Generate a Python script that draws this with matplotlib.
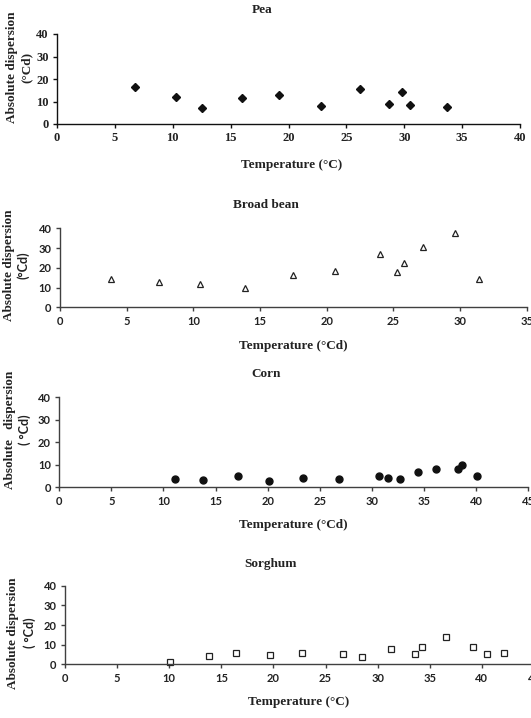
import matplotlib
matplotlib.use('Agg')
import matplotlib.pyplot as plt

# Data
pea_temp = [6.7, 10.3, 12.5, 16.0, 19.2, 22.8, 26.2, 28.7, 29.8, 30.5, 33.7]
pea_disp = [16.3, 12.1, 7.3, 11.4, 13.1, 8.1, 15.7, 8.7, 14.1, 8.6, 7.4]

bean_temp = [3.8, 7.4, 10.5, 13.9, 17.5, 20.6, 24.0, 25.3, 25.8, 27.2, 29.6, 31.4]
bean_disp = [14.3, 13.0, 11.8, 10.0, 16.2, 18.2, 27.2, 17.7, 22.3, 30.4, 37.5, 14.3]

corn_temp = [11.1, 13.8, 17.2, 20.1, 23.4, 26.9, 30.7, 31.6, 32.7, 34.4, 36.2, 38.3, 38.7, 40.1]
corn_disp = [3.5, 3.2, 4.9, 3.0, 3.9, 3.8, 5.2, 4.1, 3.5, 6.7, 8.0, 8.0, 9.9, 4.9]

sorg_temp = [10.1, 13.8, 16.4, 19.7, 22.7, 26.7, 28.5, 31.3, 33.6, 34.3, 36.6, 39.1, 40.5, 42.1]
sorg_disp = [1.4, 4.4, 5.6, 4.9, 5.9, 5.4, 3.7, 8.0, 5.1, 8.8, 13.7, 8.8, 5.4, 5.6]

W, H = 531, 718
fig = plt.figure(figsize=(W / 100, H / 100), dpi=100)
fig.patch.set_facecolor('white')

SERIF = 'Liberation Serif'
SANS = ['Lato', 'DejaVu Sans']


def px_axes(l, t, r, b):
    '''Add axes from pixel box (left, top, right, bottom)'''
    return fig.add_axes([l / W, 1 - b / H, (r - l) / W, (b - t) / H])


def ftext(x, y, s, **kw):
    fig.text(x / W, 1 - y / H, s, ha='center', va='center', **kw)


def style_axes(ax, xmax, xstep, tickfont, color):
    ax.set_xlim(0, xmax)
    ax.set_ylim(0, 40)
    ax.set_xticks(range(0, xmax + 1, xstep))
    ax.set_yticks(range(0, 41, 10))
    for s in ['top', 'right']:
        ax.spines[s].set_visible(False)
    for s in ['left', 'bottom']:
        ax.spines[s].set_color(color)
        ax.spines[s].set_linewidth(1.0)
    ax.tick_params(direction='out', length=3, width=1.0, colors=color,
                   labelcolor='#222222', pad=3)
    for lab in ax.get_xticklabels() + ax.get_yticklabels():
        if tickfont == 'serif':
            lab.set_family(SERIF)
            lab.set_fontsize(9)
        else:
            lab.set_family(SANS)
            lab.set_fontsize(8)
        lab.set_fontweight('bold')
    ax.patch.set_alpha(0)


title_kw = dict(family=SERIF, fontweight='bold', fontsize=9.5, color='#222222')
label_kw = dict(family=SERIF, fontweight='bold', fontsize=9.5, color='#222222')

# Pea
ax = px_axes(57, 34, 520, 124)
ax.plot(pea_temp, pea_disp, linestyle='none', marker='D', ms=4.5,
        color='#111111', clip_on=False)
style_axes(ax, 40, 5, 'serif', '#111111')
ftext(262, 10, 'Pea', **title_kw)
ftext(292, 165, 'Temperature (°C)', **label_kw)
ftext(12, 67, 'Absolute dispersion', rotation=90, **label_kw)
ftext(27, 67, '(°Cd)', rotation=90, **label_kw)

# Broad bean
ax = px_axes(60, 228.3, 526.7, 307.3)
ax.plot(bean_temp, bean_disp, linestyle='none', marker='^', ms=4.8,
        mfc='white', mec='#222222', mew=0.9, clip_on=False)
style_axes(ax, 35, 5, 'sans', '#404040')
ftext(266, 205, 'Broad bean', **title_kw)
ftext(293, 346, 'Temperature (°Cd)', **label_kw)
ftext(9, 265, 'Absolute dispersion', rotation=90, **label_kw)
ftext(23, 265, '(°Cd)', rotation=90, family=SANS, fontweight='bold',
      fontsize=9, color='#222222')

# Corn
ax = px_axes(59.3, 397, 528, 487.3)
ax.plot(corn_temp, corn_disp, linestyle='none', marker='o', ms=5,
        color='#111111', clip_on=False)
style_axes(ax, 45, 5, 'sans', '#404040')
ftext(266, 374, 'Corn', **title_kw)
ftext(293, 525, 'Temperature (°Cd)', **label_kw)
ftext(10, 430, 'Absolute   dispersion', rotation=90, **label_kw)
ftext(25, 430, '( °Cd)', rotation=90, family=SANS, fontweight='bold',
      fontsize=9, color='#222222')

# Sorghum
ax = px_axes(65, 585.7, 534, 664.3)
ax.plot(sorg_temp, sorg_disp, linestyle='none', marker='s', ms=4.5,
        mfc='white', mec='#222222', mew=0.9, clip_on=False)
style_axes(ax, 45, 5, 'sans', '#404040')
ftext(271, 564, 'Sorghum', **title_kw)
ftext(299, 702, 'Temperature (°C)', **label_kw)
ftext(13, 633, 'Absolute dispersion', rotation=90, **label_kw)
ftext(30, 633, '( °Cd)', rotation=90, family=SANS, fontweight='bold',
      fontsize=9, color='#222222')

fig.savefig('out.png', dpi=100)
